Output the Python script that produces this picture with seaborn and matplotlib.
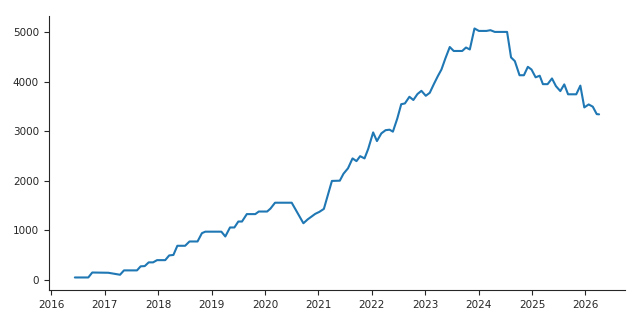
import matplotlib
matplotlib.use("Agg")
import matplotlib.pyplot as plt
import matplotlib.dates as mdates
import seaborn as sns
import pandas as pd

dates = [
    "2016-06-10", "2016-09-10", "2016-10-07", "2017-01-25", "2017-04-15", "2017-05-12",
    "2017-08-09", "2017-09-03", "2017-10-01", "2017-10-28", "2017-11-27", "2017-12-24",
    "2018-02-18", "2018-03-17", "2018-04-15", "2018-05-12", "2018-07-04", "2018-08-03",
    "2018-09-27", "2018-10-27", "2018-11-19", "2019-03-09", "2019-04-05", "2019-05-07",
    "2019-06-06", "2019-07-03", "2019-07-28", "2019-08-30", "2019-10-27", "2019-11-20",
    "2020-01-16", "2020-02-08", "2020-03-10", "2020-07-02", "2020-09-20", "2020-10-20",
    "2020-12-10", "2021-01-07", "2021-02-07", "2021-04-03", "2021-05-27", "2021-06-21",
    "2021-07-22", "2021-08-22", "2021-09-18", "2021-10-13", "2021-11-12", "2021-12-07",
    "2022-01-10", "2022-02-05", "2022-03-07", "2022-04-05", "2022-05-02", "2022-05-25",
    "2022-06-24", "2022-07-21", "2022-08-15", "2022-09-15", "2022-10-12", "2022-11-09",
    "2022-12-06", "2023-01-05", "2023-02-01", "2023-03-01", "2023-03-28", "2023-04-22",
    "2023-05-19", "2023-06-18", "2023-07-15", "2023-09-11", "2023-10-07", "2023-11-02",
    "2023-12-04", "2024-01-03", "2024-02-24", "2024-03-22", "2024-04-21", "2024-07-14",
    "2024-08-10", "2024-09-05", "2024-10-07", "2024-11-06", "2024-12-03", "2024-12-28",
    "2025-01-25", "2025-02-22", "2025-03-16", "2025-04-17", "2025-05-17", "2025-06-13",
    "2025-07-13", "2025-08-09", "2025-09-04", "2025-10-30", "2025-11-27", "2025-12-24",
    "2026-01-23", "2026-02-20", "2026-03-19", "2026-04-04",
]
values = [
    45, 45, 145, 140, 100, 188,
    188, 270, 275, 350, 350, 395,
    395, 490, 500, 685, 685, 772,
    772, 940, 970, 970, 873, 1055,
    1055, 1175, 1175, 1325, 1325, 1377,
    1377, 1437, 1555, 1555, 1140, 1220,
    1330, 1370, 1430, 1995, 2000, 2140,
    2250, 2450, 2395, 2495, 2450, 2640,
    2975, 2800, 2955, 3020, 3030, 2990,
    3255, 3545, 3560, 3695, 3630, 3750,
    3815, 3715, 3775, 3950, 4110, 4245,
    4470, 4700, 4620, 4620, 4690, 4650,
    5075, 5025, 5025, 5040, 5005, 5005,
    4490, 4415, 4130, 4130, 4300, 4245,
    4088, 4120, 3950, 3950, 4065, 3910,
    3810, 3945, 3745, 3745, 3920, 3480,
    3540, 3495, 3345, 3340,
]

df = pd.DataFrame({"date": pd.to_datetime(dates), "value": values})

sns.set_style("ticks")
plt.rcParams["font.family"] = ["DejaVu Sans"]

fig, ax = plt.subplots(figsize=(6.4, 3.2), dpi=100)
fig.subplots_adjust(left=0.076, right=0.977, top=0.95, bottom=0.094)

sns.lineplot(data=df, x="date", y="value", ax=ax, color="#1f77b4", linewidth=1.5)

ax.xaxis.set_major_locator(mdates.YearLocator())
ax.xaxis.set_major_formatter(mdates.DateFormatter("%Y"))
ax.set_xlabel("")
ax.set_ylabel("")
ax.tick_params(labelsize=7.5)
sns.despine(ax=ax)

fig.savefig("out.png", dpi=100)
